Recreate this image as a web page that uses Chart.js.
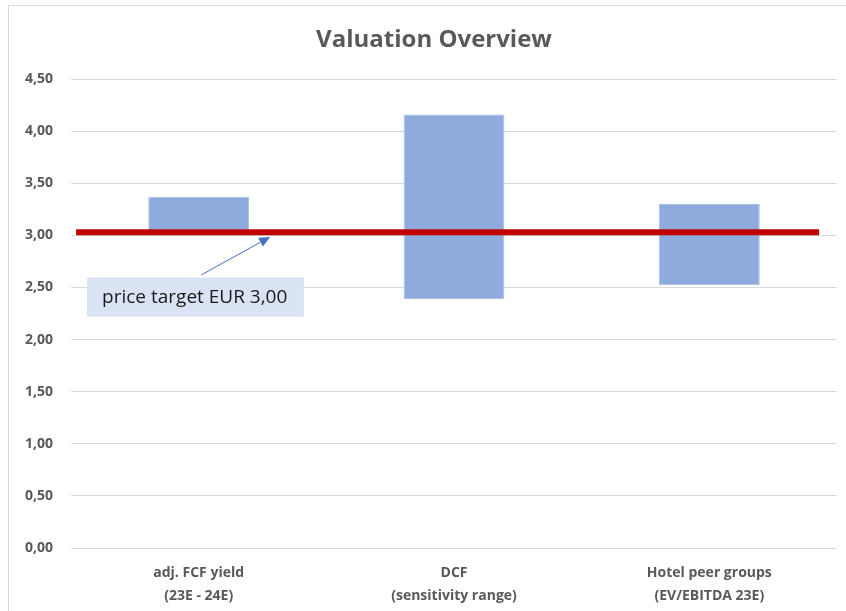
<!DOCTYPE html>
<html>
<head>
<meta charset="utf-8">
<script src="https://cdn.jsdelivr.net/npm/chart.js@4.4.0/dist/chart.umd.min.js"></script>
<style>
  html, body { margin: 0; padding: 0; background: #fff; }
  #wrap { position: relative; width: 846px; height: 611px; }
</style>
</head>
<body>
<div id="wrap"><canvas id="chart" width="846" height="611"></canvas></div>
<script>
// Data
const categories = [
    ['adj. FCF yield', '(23E - 24E)'],
    ['DCF', '(sensitivity range)'],
    ['Hotel peer groups', '(EV/EBITDA 23E)']
];
const rangeLow  = [3.05, 2.39, 2.52];
const rangeHigh = [3.37, 4.16, 3.30];
const priceTarget = 3.03;
const lineFrom = 0.02;   // position along the category axis (0..3)
const lineTo = 2.93;
const yTicks = [0, 0.5, 1, 1.5, 2, 2.5, 3, 3.5, 4, 4.5];

const GREY = '#595959';
const FONT = "'Open Sans', Lato, sans-serif";

// Annotation callout, in data space (xl axis 0..3, y axis)
const NOTE = {
    text: 'price target EUR 3,00',
    box: { x0: 0.063, x1: 0.912, y0: 2.595, y1: 2.22 },
    tail: { x: 0.51, y: 2.62 },
    tip: { x: 0.78, y: 2.985 }
};

const floating = rangeLow.map((lo, i) => [lo, rangeHigh[i]]);

// Frame + title + callout
const decor = {
    id: 'decor',
    beforeDraw(chart) {
        const ctx = chart.ctx;
        ctx.save();
        ctx.strokeStyle = '#d9d9d9';
        ctx.lineWidth = 1;
        ctx.strokeRect(8.5, 5.5, 900, 700);
        ctx.fillStyle = GREY;
        ctx.font = 'bold 24px ' + FONT;
        ctx.textAlign = 'center';
        ctx.textBaseline = 'middle';
        ctx.fillText('Valuation Overview', 434, 40);
        ctx.restore();
    },
    afterDraw(chart) {
        const ctx = chart.ctx;
        const xs = chart.scales.xl, ys = chart.scales.y;
        const bx0 = xs.getPixelForValue(NOTE.box.x0), bx1 = xs.getPixelForValue(NOTE.box.x1);
        const by0 = ys.getPixelForValue(NOTE.box.y0), by1 = ys.getPixelForValue(NOTE.box.y1);
        ctx.save();
        ctx.fillStyle = '#dae3f3';
        ctx.fillRect(bx0, by0, bx1 - bx0, by1 - by0);
        ctx.fillStyle = '#1a1a1a';
        ctx.font = '19px ' + FONT;
        ctx.textAlign = 'left';
        ctx.textBaseline = 'middle';
        ctx.fillText(NOTE.text, bx0 + 15, (by0 + by1) / 2 + 1);

        // arrow
        const tx = xs.getPixelForValue(NOTE.tail.x), ty = ys.getPixelForValue(NOTE.tail.y);
        const hx = xs.getPixelForValue(NOTE.tip.x), hy = ys.getPixelForValue(NOTE.tip.y);
        const ang = Math.atan2(hy - ty, hx - tx);
        const hl = 11, hw = 5;
        ctx.strokeStyle = '#4472c4';
        ctx.fillStyle = '#4472c4';
        ctx.lineWidth = 1;
        ctx.beginPath();
        ctx.moveTo(tx, ty);
        ctx.lineTo(hx - hl * Math.cos(ang), hy - hl * Math.sin(ang));
        ctx.stroke();
        ctx.beginPath();
        ctx.moveTo(hx, hy);
        ctx.lineTo(hx - hl * Math.cos(ang) + hw * Math.sin(ang), hy - hl * Math.sin(ang) - hw * Math.cos(ang));
        ctx.lineTo(hx - hl * Math.cos(ang) - hw * Math.sin(ang), hy - hl * Math.sin(ang) + hw * Math.cos(ang));
        ctx.closePath();
        ctx.fill();
        ctx.restore();
    }
};

new Chart(document.getElementById('chart'), {
    type: 'bar',
    data: {
        labels: categories,
        datasets: [
            {
                label: 'Range',
                data: floating,
                backgroundColor: '#8faadc',
                borderColor: '#a9bfe6',
                borderWidth: 1,
                borderSkipped: false,
                grouped: false,
                barPercentage: 0.395,
                categoryPercentage: 1,
                order: 2
            },
            {
                type: 'line',
                label: 'Price target',
                data: [{ x: lineFrom, y: priceTarget }, { x: lineTo, y: priceTarget }],
                xAxisID: 'xl',
                borderColor: '#c00000',
                borderWidth: 6,
                borderCapStyle: 'butt',
                pointRadius: 0,
                fill: false,
                order: 1
            }
        ]
    },
    options: {
        responsive: false,
        animation: false,
        layout: { padding: { top: 79, right: 9, left: 0, bottom: 0 } },
        plugins: {
            legend: { display: false },
            title: { display: false },
            tooltip: { enabled: false }
        },
        scales: {
            x: {
                grid: { display: false, drawTicks: false },
                border: { display: false },
                ticks: {
                    color: GREY,
                    font: { family: FONT, size: 14, weight: 'bold', lineHeight: 23 / 14 },
                    padding: 14,
                    maxRotation: 0
                },
                afterFit(scale) { scale.height = 63; }
            },
            xl: {
                type: 'linear',
                display: false,
                offset: false,
                min: 0,
                max: 3
            },
            y: {
                min: 0,
                max: 4.5,
                afterBuildTicks(scale) { scale.ticks = yTicks.map(v => ({ value: v })); },
                grid: { color: '#d9d9d9', lineWidth: 1, drawTicks: false },
                border: { display: false },
                ticks: {
                    color: GREY,
                    font: { family: FONT, size: 14, weight: 'bold' },
                    padding: 18,
                    callback: v => v.toFixed(2).replace('.', ',')
                },
                afterFit(scale) { scale.width = 71; }
            }
        }
    },
    plugins: [decor]
});
</script>
</body>
</html>
